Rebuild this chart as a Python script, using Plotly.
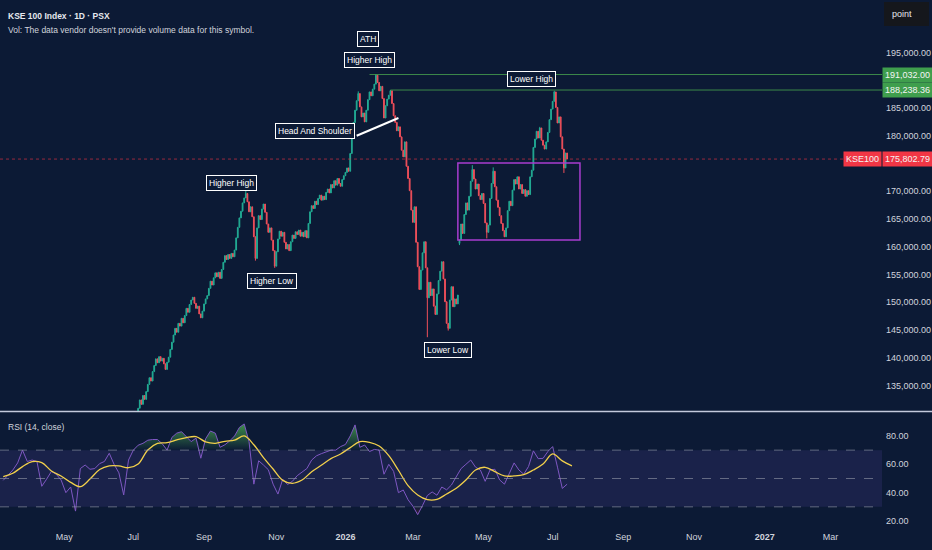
import numpy as np
import pandas as pd
import plotly.graph_objects as go
from plotly.subplots import make_subplots

# ---- values ----
# daily closes (thousand points), one per weekday from 1 Jul 2025
closes_k = [
    128.6, 129.4, 130.1, 130.9, 132.4, 131.6, 133.2, 132.5, 133.9, 135.2,
    136.4, 135.8, 137.5, 138.6, 139.8, 139.1, 140.2, 139.4, 139.9, 138.9,
    137.9, 139.2, 140.1, 141.5, 142.8, 144.1, 145.3, 144.6, 146.2, 145.7,
    147.1, 146.3, 147.6, 148.9, 148.2, 149.6, 150.4, 150.9, 149.8, 148.9,
    149.3, 147.9, 147.2, 148.4, 149.7, 150.6, 151.2, 152.5, 153.8, 153.1,
    154.4, 155.3, 154.6, 155.4, 154.3, 155.9, 157.2, 158.4, 157.7, 158.6,
    157.9, 158.8, 158.2, 159.4, 161.6, 163.5, 165.2, 166.4, 167.9, 168.8,
    169.6, 168.1, 166.3, 167.2, 165.4, 161.8, 157.9, 163.4, 165.6, 164.9,
    166.8, 167.7, 166.2, 164.1, 162.6, 163.4, 161.2, 159.3, 156.5, 159.1,
    161.4, 162.8, 161.9, 162.6, 160.8, 159.6, 160.4, 159.3, 160.9, 162.1,
    161.5, 162.7, 162.2, 163.0, 161.9, 162.6, 161.8, 162.9, 161.6, 164.2,
    166.3, 167.4, 166.9, 168.2, 167.6, 168.7, 169.3, 168.4, 169.1, 168.5,
    169.8, 170.4, 169.7, 171.2, 170.6, 171.9, 171.1, 172.3, 171.4, 170.9,
    172.1, 172.8, 173.4, 174.2, 173.6, 176.8, 180.1, 182.4, 184.6, 186.3,
    187.6, 185.2, 183.4, 184.1, 182.5, 184.6, 186.5, 187.9, 187.2, 188.4,
    189.3, 190.9, 189.6, 188.1, 188.9, 186.7, 183.2, 185.4, 186.6, 187.3,
    188.1, 185.8, 183.6, 182.4, 180.9, 181.6, 179.8, 177.4, 176.2, 178.9,
    174.5, 172.3, 170.1, 166.6, 164.4, 167.2, 160.8, 156.4, 152.3, 155.8,
    158.9, 160.9, 156.2, 150.8, 153.6, 151.2, 152.4, 149.3, 147.8, 151.5,
    153.9, 155.6, 157.3, 154.2, 150.1, 146.2, 145.3, 150.4, 152.8, 149.2,
    150.6, 149.7, 151.3, 161.2, 164.1, 162.4, 165.8, 167.9, 166.6, 169.1,
    171.8, 173.9, 172.2, 170.4, 171.3, 169.2, 168.5, 169.6, 167.8, 164.3,
    162.6, 163.9, 168.7, 171.4, 173.6, 170.8, 168.4, 167.1, 165.6, 164.2,
    162.9, 161.8, 163.4, 166.5, 168.2, 167.4, 170.2, 172.1, 171.3, 172.6,
    170.4, 171.2, 169.6, 170.3, 169.1, 170.1, 169.4, 172.6, 173.8, 177.9,
    179.4, 180.8, 179.6, 181.4, 179.2, 178.3, 177.6, 178.9, 180.6, 182.9,
    184.8, 186.2, 187.9, 185.1, 182.3, 183.4, 179.8, 177.6, 174.2, 176.9,
    175.80279,
]
first_open_k = 128.0
gap_opens_k = {203: 160.6}
wick_highs_k = {70: 170.2, 140: 188.0, 151: 191.032, 160: 188.23836,
                211: 174.7, 224: 174.3, 253: 181.6, 262: 188.1}
wick_lows_k = {76: 157.5, 88: 156.2, 183: 143.7, 196: 144.9,
               203: 160.3, 220: 161.5, 268: 173.3}

# RSI(14) every 3rd weekday from 10 Mar 2025, its MA every 6th weekday
rsi_vals = [
    48.7, 52, 56, 61, 70, 62, 63, 62, 44.5, 49.5,
    55, 53, 49, 40, 44, 27, 57, 59.5, 56.5, 57,
    60.5, 62, 67.8, 60, 54, 38.4, 63, 70, 73.5, 74.8,
    77, 77.5, 77.5, 74.5, 70, 79, 82, 83, 79.8, 76,
    78.5, 64.3, 78, 83.5, 82, 72, 73.8, 76.5, 80, 86,
    88.5, 76, 46, 62.5, 59.5, 56.2, 46, 39, 49.5, 45.8,
    48, 52, 54.5, 57, 63, 66, 67.5, 68.5, 70, 70,
    72.5, 74, 80, 87.8, 72, 73.6, 69, 70.5, 70, 53,
    60, 55, 40, 41.9, 35, 30.5, 24.5, 31, 38, 40.5,
    38.2, 44, 42, 45.4, 51.3, 57, 60, 63, 58, 56,
    48, 56, 56.5, 49, 46, 53.5, 61, 56, 53, 58.5,
    69.5, 64, 64.2, 69, 72.5, 58, 43, 46,
]
rsi_ma_vals = [
    51.3, 53.7, 58.4, 61.9, 61.2, 55.3, 51.8, 47.3, 44.2, 49.6,
    56.3, 58.9, 58.9, 57.6, 60.2, 70.1, 74.8, 75.3, 77.2, 78.8,
    79.5, 75.8, 74.8, 76.2, 77.0, 80.0, 73.8, 64.7, 56.7, 48.7,
    46.6, 48.9, 54.8, 59.3, 64.0, 67.3, 71.8, 76.0, 75.5, 72.9,
    66.1, 55.8, 45.0, 38.4, 35.1, 35.3, 39.1, 43.1, 48.9, 56.0,
    57.9, 54.8, 51.8, 51.8, 52.7, 56.0, 60.2, 67.3, 62.4, 58.9,
]

ath_price = 191032.00
lower_high_price = 188238.36
last_price = 175802.79

tick_dates = ["2025-03-03", "2025-05-01", "2025-07-01", "2025-09-01", "2025-11-03",
              "2026-01-01", "2026-03-02", "2026-05-01", "2026-07-01", "2026-09-01",
              "2026-11-02", "2027-01-01", "2027-03-01"]
tick_labels = ["Mar", "May", "Jul", "Sep", "Nov", "<b>2026</b>", "Mar", "May", "Jul",
               "Sep", "Nov", "<b>2027</b>", "Mar"]
price_ticks = [135000, 140000, 145000, 150000, 155000, 160000, 165000, 170000,
               180000, 185000, 195000]
rsi_ticks = [20, 40, 60, 80]

BG = "#0c1a35"
TXT = "#d1d4dc"
FONT = "Liberation Sans, Arial, sans-serif"
UP, DOWN = "#22ab94", "#ef4f5a"
X_RANGE = ["2025-03-06", "2027-04-14"]

# ---- build series ----
days = pd.bdate_range("2025-07-01", "2027-06-30")
close = np.array(closes_k) * 1000
n = len(close)
open_ = np.r_[first_open_k * 1000, close[:-1]]
for k, v in gap_opens_k.items():
    open_[k] = v * 1000
high = np.maximum(open_, close)
low = np.minimum(open_, close)
for k, v in wick_highs_k.items():
    high[k] = v * 1000
for k, v in wick_lows_k.items():
    low[k] = v * 1000

rsi = np.array(rsi_vals)
rsi_x = pd.bdate_range("2025-03-10", periods=len(rsi), freq="3B")
ma_x = pd.bdate_range("2025-03-10", periods=len(rsi_ma_vals), freq="6B")

fig = make_subplots(rows=2, cols=1, shared_xaxes=True, vertical_spacing=0.002)

fig.add_trace(go.Candlestick(
    x=days[:n], open=open_, high=high, low=low, close=close,
    increasing=dict(line=dict(color=UP, width=1), fillcolor=UP),
    decreasing=dict(line=dict(color=DOWN, width=1), fillcolor=DOWN),
    whiskerwidth=0, showlegend=False), row=1, col=1)

# overbought / oversold fills
fig.add_trace(go.Scatter(x=rsi_x, y=np.full(len(rsi), 70.0), mode="lines",
                         line=dict(width=0), showlegend=False), row=2, col=1)
fig.add_trace(go.Scatter(x=rsi_x, y=np.maximum(rsi, 70), mode="lines", line=dict(width=0),
                         fill="tonexty",
                         fillgradient=dict(type="vertical", start=70, stop=90,
                                           colorscale=[[0, "rgba(76,175,80,0)"],
                                                       [1, "rgba(76,175,80,0.85)"]]),
                         showlegend=False), row=2, col=1)
fig.add_trace(go.Scatter(x=rsi_x, y=np.full(len(rsi), 30.0), mode="lines",
                         line=dict(width=0), showlegend=False), row=2, col=1)
fig.add_trace(go.Scatter(x=rsi_x, y=np.minimum(rsi, 30), mode="lines", line=dict(width=0),
                         fill="tonexty",
                         fillgradient=dict(type="vertical", start=10, stop=30,
                                           colorscale=[[0, "rgba(242,54,69,0.85)"],
                                                       [1, "rgba(242,54,69,0)"]]),
                         showlegend=False), row=2, col=1)
fig.add_trace(go.Scatter(x=rsi_x, y=rsi, mode="lines",
                         line=dict(color="#7e57c2", width=1), showlegend=False), row=2, col=1)
fig.add_trace(go.Scatter(x=ma_x, y=rsi_ma_vals, mode="lines", line_shape="spline",
                         line=dict(color="#f2d04b", width=1.3), showlegend=False), row=2, col=1)

# ---- axes ----
fig.update_xaxes(rangebreaks=[dict(bounds=["sat", "mon"])], range=X_RANGE,
                 showgrid=False, zeroline=False, showline=False, ticks="",
                 rangeslider_visible=False)
fig.update_xaxes(tickvals=tick_dates, ticktext=tick_labels, ticklabelstandoff=5,
                 tickfont=dict(size=9, color=TXT, family=FONT), row=2, col=1)

PH = 525.0  # plot height in px


def py(p):
    return (PH - p) / PH


fig.update_layout(
    yaxis=dict(domain=[py(411), 1], range=[130405, 204460], side="right",
               tickvals=price_ticks, tickformat=",.2f", showgrid=False, zeroline=False,
               ticks="", ticklabelstandoff=3,
               tickfont=dict(size=9, color=TXT, family=FONT)),
    yaxis2=dict(domain=[0, py(412)], range=[17.2, 96.9], side="right",
                tickvals=rsi_ticks, tickformat=".2f", showgrid=False, zeroline=False,
                ticks="", ticklabelstandoff=3,
                tickfont=dict(size=9, color=TXT, family=FONT)),
)

shapes = []
# RSI band and levels
shapes.append(dict(type="rect", xref="paper", yref="y2", x0=0, x1=1, y0=30, y1=70,
                   fillcolor="rgba(120,95,215,0.13)", line=dict(width=0), layer="below"))
for lvl in (70, 50, 30):
    shapes.append(dict(type="line", xref="paper", yref="y2", x0=0, x1=1, y0=lvl, y1=lvl,
                       line=dict(color="rgba(150,155,170,0.6)", width=1, dash="dash")))
# pane separator
shapes.append(dict(type="line", xref="paper", yref="paper", x0=0, x1=932 / 882,
                   y0=py(411.5), y1=py(411.5), line=dict(color="#c3c9dc", width=1.5)))
# last price line
shapes.append(dict(type="line", xref="paper", yref="y", x0=0, x1=1, y0=last_price,
                   y1=last_price, line=dict(color="rgba(242,54,69,0.6)", width=1, dash="dot")))
# ATH and lower-high levels
shapes.append(dict(type="line", xref="x", yref="y", x0=days[147], x1=X_RANGE[1],
                   y0=ath_price, y1=ath_price, line=dict(color="rgba(76,175,80,0.75)", width=1)))
shapes.append(dict(type="line", xref="x", yref="y", x0=days[160], x1=X_RANGE[1],
                   y0=lower_high_price, y1=lower_high_price,
                   line=dict(color="rgba(76,175,80,0.75)", width=1)))
# neckline
shapes.append(dict(type="line", xref="x", yref="y", x0=days[139], x1=days[165],
                   y0=180000, y1=183200, line=dict(color="white", width=2)))
# range box
shapes.append(dict(type="rect", xref="x", yref="y", x0=days[202], x1=days[278],
                   y0=161200, y1=175100, line=dict(color="#a83ccf", width=1.5)))
# "point" button
shapes.append(dict(type="rect", xref="paper", yref="paper", x0=884 / 882, x1=929 / 882,
                   y0=py(26), y1=py(2), fillcolor="#15171c", line=dict(width=0)))

annotations = []
box = dict(font=dict(size=8.5, color="white", family=FONT), bgcolor=BG,
           bordercolor="white", borderwidth=1, borderpad=2, showarrow=False)
for text, i, p in [("ATH", 146, 197400), ("Higher High", 147, 193650),
                   ("Higher High", 61, 171500), ("Higher Low", 86, 153800),
                   ("Head And Shoulder", 113, 180900), ("Lower Low", 196, 141400),
                   ("Lower High", 248, 190200)]:
    annotations.append(dict(text=text, x=days[i], y=p, xref="x", yref="y", **box))

annotations += [
    dict(text="KSE 100 Index · 1D · PSX", xref="paper", yref="paper", x=6 / 882, y=py(16),
         xanchor="left", yanchor="middle", showarrow=False,
         font=dict(size=8.5, color="#e6e8ee", family=FONT, weight="bold")),
    dict(text="Vol: The data vendor doesn't provide volume data for this symbol.",
         xref="paper", yref="paper", x=6 / 882, y=py(30), xanchor="left", yanchor="middle",
         showarrow=False, font=dict(size=8.5, color=TXT, family=FONT)),
    dict(text="RSI (14, close)", xref="paper", yref="paper", x=6 / 882, y=py(427),
         xanchor="left", yanchor="middle", showarrow=False,
         font=dict(size=8.5, color=TXT, family=FONT)),
    dict(text="point", xref="paper", yref="paper", x=890 / 882, y=py(14),
         xanchor="left", yanchor="middle", showarrow=False,
         font=dict(size=9, color="#e6e8ee", family=FONT)),
]
for val, color in [(ath_price, "#3f9e4d"), (lower_high_price, "#3f9e4d"), (last_price, "#f23645")]:
    annotations.append(dict(text=f"{val:,.2f}", xref="paper", yref="y", x=1.0, y=val,
                            xanchor="left", yanchor="middle", showarrow=False,
                            bgcolor=color, borderpad=2,
                            font=dict(size=9, color="#f4f4f4", family=FONT)))
annotations.append(dict(text="KSE100", xref="paper", yref="y", x=1.0, y=last_price,
                        xanchor="right", yanchor="middle", showarrow=False,
                        bgcolor="#f23645", borderpad=2,
                        font=dict(size=9, color="#f4f4f4", family=FONT)))

fig.update_layout(
    width=932, height=550,
    margin=dict(l=0, r=50, t=0, b=25),
    paper_bgcolor=BG, plot_bgcolor=BG,
    font=dict(family=FONT, color=TXT),
    showlegend=False, hovermode=False,
    shapes=shapes, annotations=annotations,
)

# the page's default 8px body margin would shift the chart
fig.write_html("out.html", config={"displayModeBar": False},
               post_script="document.body.style.margin='0';")
